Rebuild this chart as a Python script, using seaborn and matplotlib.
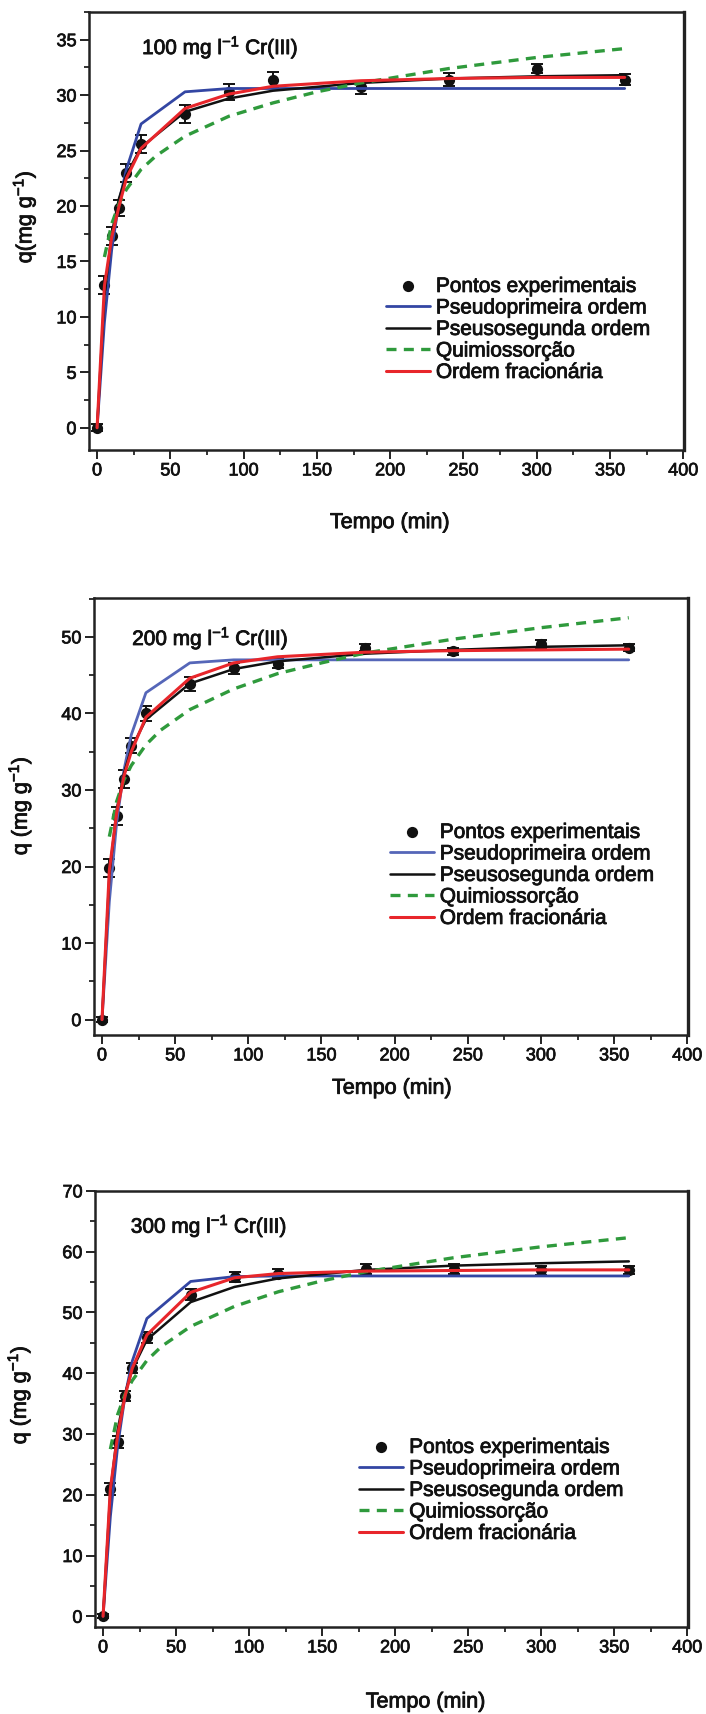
import numpy as np
import pandas as pd
import matplotlib
matplotlib.use("Agg")
import matplotlib.pyplot as plt
import matplotlib.patheffects as pe
from matplotlib.ticker import MultipleLocator
import seaborn as sns

# Tempo de contato (min)
tempo = [0, 5, 10, 15, 20, 30, 60, 90, 120, 180, 240, 300, 360]
# grade mais fina usada para a curva de quimiossorção
tempo_elov = [5, 10, 15, 20, 30, 40, 60, 90, 120, 150, 180, 240, 300, 360]

# 100 mg/l Cr(III)
exp_100 = [0, 12.9, 17.3, 19.8, 23.0, 25.6, 28.3, 30.3, 31.4, 30.7, 31.4, 32.4, 31.4]
err_100 = [0.3, 0.8, 0.8, 0.7, 0.8, 0.8, 0.8, 0.7, 0.7, 0.6, 0.6, 0.4, 0.5]
pp_100 = [0, 9.5, 16.1, 20.4, 23.3, 27.4, 30.3, 30.6, 30.6, 30.6, 30.6, 30.6, 30.6]
ps_100 = [0, 11.9, 17.5, 20.7, 22.8, 25.3, 28.5, 29.7, 30.4, 31.1, 31.5, 31.7, 31.8]
el_100 = [15.4, 18.4, 20.2, 21.5, 23.3, 24.5, 26.3, 28.1, 29.3, 30.3, 31.1, 32.4, 33.4, 34.2]
of_100 = [0, 12.8, 17.2, 20.0, 22.5, 25.2, 28.8, 30.1, 30.8, 31.3, 31.5, 31.6, 31.6]

# 200 mg/l Cr(III)
exp_200 = [0, 19.8, 26.6, 31.4, 35.8, 40.0, 43.8, 45.9, 46.5, 48.6, 48.1, 49.1, 48.6]
err_200 = [0.3, 1.2, 1.2, 1.2, 1.0, 1.0, 0.9, 0.7, 0.6, 0.5, 0.5, 0.5, 0.5]
pp_200 = [0, 15.4, 25.7, 32.6, 37.2, 42.7, 46.6, 47.0, 47.0, 47.0, 47.0, 47.0, 47.0]
ps_200 = [0, 18.8, 27.4, 32.2, 35.4, 39.2, 43.9, 45.8, 46.8, 47.8, 48.3, 48.7, 48.9]
el_200 = [23.9, 28.5, 31.3, 33.2, 35.9, 37.8, 40.5, 43.2, 45.2, 46.6, 47.9, 49.7, 51.2, 52.5]
of_200 = [0, 19.5, 27.0, 31.8, 35.0, 39.5, 44.6, 46.6, 47.4, 48.0, 48.2, 48.3, 48.4]

# 300 mg/l Cr(III)
exp_300 = [0, 21.0, 28.7, 36.2, 40.9, 45.9, 52.9, 55.8, 56.4, 57.2, 57.1, 56.9, 57.0]
err_300 = [0.3, 1.0, 1.0, 0.8, 0.8, 0.9, 0.9, 0.8, 0.7, 0.8, 0.8, 0.7, 0.7]
pp_300 = [0, 16.4, 28.0, 36.2, 42.0, 49.0, 55.1, 55.9, 56.0, 56.0, 56.0, 56.0, 56.0]
ps_300 = [0, 20.5, 30.7, 36.6, 40.6, 45.5, 51.7, 54.2, 55.6, 57.0, 57.7, 58.1, 58.4]
el_300 = [27.5, 33.2, 36.5, 38.8, 42.1, 44.4, 47.7, 51.0, 53.4, 55.2, 56.7, 59.0, 60.8, 62.3]
of_300 = [0, 21.0, 29.8, 36.2, 40.8, 46.3, 53.3, 55.7, 56.4, 56.8, 56.9, 57.0, 57.0]

titulos = ["100 mg l$^{-1}$ Cr(III)", "200 mg l$^{-1}$ Cr(III)", "300 mg l$^{-1}$ Cr(III)"]
ylabels = ["q(mg g$^{-1}$)", "q (mg g$^{-1}$)", "q (mg g$^{-1}$)"]
nomes = ["Pontos experimentais", "Pseudoprimeira ordem", "Pseusosegunda ordem",
         "Quimiossorção", "Ordem fracionária"]

sns.set_theme(style="ticks")
plt.rcParams["font.family"] = ["Liberation Sans", "DejaVu Sans"]
plt.rcParams["mathtext.default"] = "regular"

# texto um pouco mais "grosso", como no original
grosso = [pe.withStroke(linewidth=0.6, foreground="#111111")]

fig = plt.figure(figsize=(7.06, 17.14), dpi=100)

# layout of each panel: axes rect, ylim, y major step, text pos, legend anchor, label coords
paineis = [
    dict(rect=[0.1261, 0.7375, 0.8428, 0.2555], ylim=(-2, 37.5), ymaj=5,
         txt=(30.7, 34.3), leg=(0.499, 0.395), xl=(0.505, -0.142), yl=(-0.085, 0.532),
         dados=(exp_100, err_100, pp_100, ps_100, el_100, of_100), azul="#3346a3"),
    dict(rect=[0.1331, 0.3962, 0.8414, 0.2550], ylim=(-2, 55.1), ymaj=10,
         txt=(20.6, 49.8), leg=(0.498, 0.485), xl=(0.501, -0.098), yl=(-0.101, 0.524),
         dados=(exp_200, err_200, pp_200, ps_200, el_200, of_200), azul="#5566b8"),
    dict(rect=[0.1346, 0.0508, 0.8399, 0.2544], ylim=(-1.75, 70), ymaj=10,
         txt=(19.0, 64.2), leg=(0.4455, 0.4335), xl=(0.557, -0.148), yl=(-0.1045, 0.532),
         dados=(exp_300, err_300, pp_300, ps_300, el_300, of_300), azul="#3346a3"),
]

for i, p in enumerate(paineis):
    ax = fig.add_axes(p["rect"])
    q_exp, q_err, q_pp, q_ps, q_el, q_of = p["dados"]

    ax.errorbar(tempo, q_exp, yerr=q_err, fmt="none", ecolor="#111111",
                elinewidth=1.4, capsize=4, capthick=1.4, zorder=3)
    sns.scatterplot(x=tempo, y=q_exp, ax=ax, color="#111111", s=65,
                    edgecolor="#111111", linewidth=0, label=nomes[0], zorder=4)
    sns.lineplot(x=tempo, y=q_pp, ax=ax, color=p["azul"], lw=2.0,
                 sort=False, estimator=None, label=nomes[1], zorder=5)
    sns.lineplot(x=tempo, y=q_ps, ax=ax, color="#111111", lw=1.8,
                 sort=False, estimator=None, label=nomes[2], zorder=5)
    sns.lineplot(x=tempo_elov, y=q_el, ax=ax, color="#2f9a3c", lw=2.4,
                 linestyle=(0, (3, 2.2)), sort=False, estimator=None,
                 label=nomes[3], zorder=5)
    sns.lineplot(x=tempo, y=q_of, ax=ax, color="#e8262b", lw=2.2,
                 sort=False, estimator=None, label=nomes[4], zorder=6)

    ax.set_xlim(-5.5, 400.5)
    ax.set_ylim(*p["ylim"])
    ax.xaxis.set_major_locator(MultipleLocator(50))
    ax.xaxis.set_minor_locator(MultipleLocator(25))
    ax.yaxis.set_major_locator(MultipleLocator(p["ymaj"]))
    ax.yaxis.set_minor_locator(MultipleLocator(p["ymaj"] / 2))
    ax.tick_params(which="major", direction="out", length=6.5, width=1.4,
                   labelsize=13, pad=2.5, color="#222222", labelcolor="#111111")
    ax.tick_params(which="minor", direction="out", length=3.5, width=1.3, color="#222222")
    ax.tick_params(top=False, right=False, which="both")
    for s in ax.spines.values():
        s.set_linewidth(1.8)
        s.set_color("#222222")
    ax.spines["right"].set_linewidth(2.4)

    ax.set_xlabel("Tempo (min)", fontsize=15.5, color="#111111")
    ax.set_ylabel(ylabels[i], fontsize=15.5, color="#111111")
    ax.xaxis.set_label_coords(*p["xl"])
    ax.yaxis.set_label_coords(*p["yl"])

    ax.text(p["txt"][0], p["txt"][1], titulos[i], fontsize=15, va="center",
            ha="left", color="#111111", path_effects=grosso)

    h, l = ax.get_legend_handles_labels()
    ordem = [l.index(n) for n in nomes]
    leg = ax.legend([h[k] for k in ordem], [l[k] for k in ordem], loc="upper left",
                    bbox_to_anchor=p["leg"], frameon=False, fontsize=15,
                    handlelength=2.1, handletextpad=0.3, labelspacing=0.12,
                    borderpad=0, borderaxespad=0, scatterpoints=1)
    for t in leg.get_texts():
        t.set_color("#111111")
        t.set_path_effects(grosso)
    for t in ax.get_xticklabels() + ax.get_yticklabels():
        t.set_path_effects([pe.withStroke(linewidth=0.5, foreground="#111111")])
    ax.xaxis.label.set_path_effects(grosso)
    ax.yaxis.label.set_path_effects(grosso)

fig.savefig("out.png", dpi=100)
